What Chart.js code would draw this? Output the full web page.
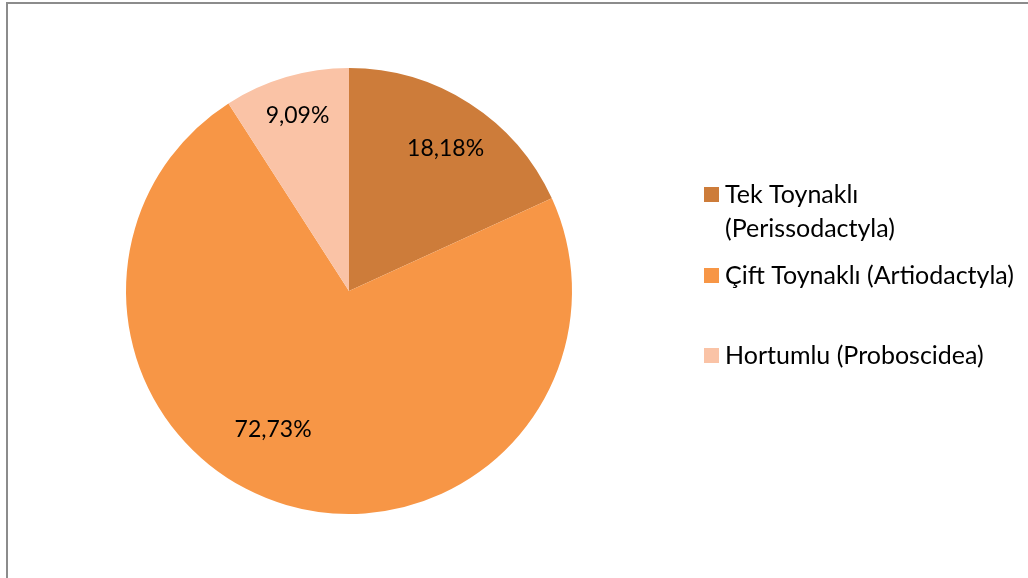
<!DOCTYPE html>
<html>
<head>
<meta charset="utf-8">
<script src="https://cdn.jsdelivr.net/npm/chart.js@4/dist/chart.umd.min.js"></script>
<style>
  html, body { margin: 0; padding: 0; background: #fff; }
  #frame {
    position: absolute; left: 6px; top: 2px;
    width: 1022px; height: 576px;
    border-top: 2px solid #8c8c8c; border-left: 2px solid #8c8c8c;
  }
  #myChart { display: block; }
</style>
</head>
<body>
<div id="frame"><canvas id="myChart" width="1020" height="574"></canvas></div>
<script>
// pie data
var labels = ['Tek Toynaklı (Perissodactyla)', 'Çift Toynaklı (Artiodactyla)', 'Hortumlu (Proboscidea)'];
var legendLines = [['Tek Toynaklı', '(Perissodactyla)'], ['Çift Toynaklı (Artiodactyla)'], ['Hortumlu (Proboscidea)']];
var values = [18.18, 72.73, 9.09];
var colors = ['#CD7C3A', '#F79646', '#FAC3A6'];

var LABEL_FONT = '23px Lato, "Open Sans", sans-serif';
var LEGEND_FONT = '25px Lato, "Open Sans", sans-serif';

// percent labels inside the slices (r = fraction of radius, da = degrees nudge)
var labelPlace = [{ r: 0.77, da: 1.5 }, { r: 0.71, da: 12.3 }, { r: 0.82, da: 0 }];

var sliceLabels = {
  id: 'sliceLabels',
  afterDatasetsDraw: function (chart) {
    var ctx = chart.ctx;
    var meta = chart.getDatasetMeta(0);
    ctx.save();
    ctx.font = LABEL_FONT;
    ctx.fillStyle = '#000';
    ctx.textAlign = 'center';
    ctx.textBaseline = 'middle';
    meta.data.forEach(function (arc, i) {
      var p = arc.getProps(['x', 'y', 'startAngle', 'endAngle', 'outerRadius'], true);
      var a = (p.startAngle + p.endAngle) / 2 + labelPlace[i].da * Math.PI / 180;
      var r = p.outerRadius * labelPlace[i].r;
      var txt = values[i].toFixed(2).replace('.', ',') + '%';
      ctx.fillText(txt, p.x + Math.cos(a) * r, p.y + Math.sin(a) * r);
    });
    ctx.restore();
  }
};

// legend on the right, square markers with wrapped text
var legendGap = [0, 81, 80];
var sideLegend = {
  id: 'sideLegend',
  afterDraw: function (chart) {
    var ctx = chart.ctx;
    var area = chart.chartArea;
    var x = area.right + 132;
    var y = 190.5;
    ctx.save();
    ctx.font = LEGEND_FONT;
    ctx.textBaseline = 'middle';
    legendLines.forEach(function (lines, i) {
      y += legendGap[i];
      ctx.fillStyle = colors[i];
      ctx.fillRect(x, y - 7.5, 15, 15);
      ctx.fillStyle = '#000';
      lines.forEach(function (ln, k) {
        ctx.fillText(ln, x + 21, y + k * 34);
      });
    });
    ctx.restore();
  }
};

var ctx = document.getElementById('myChart').getContext('2d');
var chart = new Chart(ctx, {
  type: 'pie',
  data: {
    labels: labels,
    datasets: [{
      data: values,
      backgroundColor: colors,
      borderWidth: 0
    }]
  },
  options: {
    responsive: false,
    animation: false,
    layout: { padding: { left: 118, right: 456, top: 64, bottom: 64 } },
    plugins: {
      legend: { display: false },
      tooltip: { enabled: false }
    }
  },
  plugins: [sliceLabels, sideLegend]
});
</script>
</body>
</html>
